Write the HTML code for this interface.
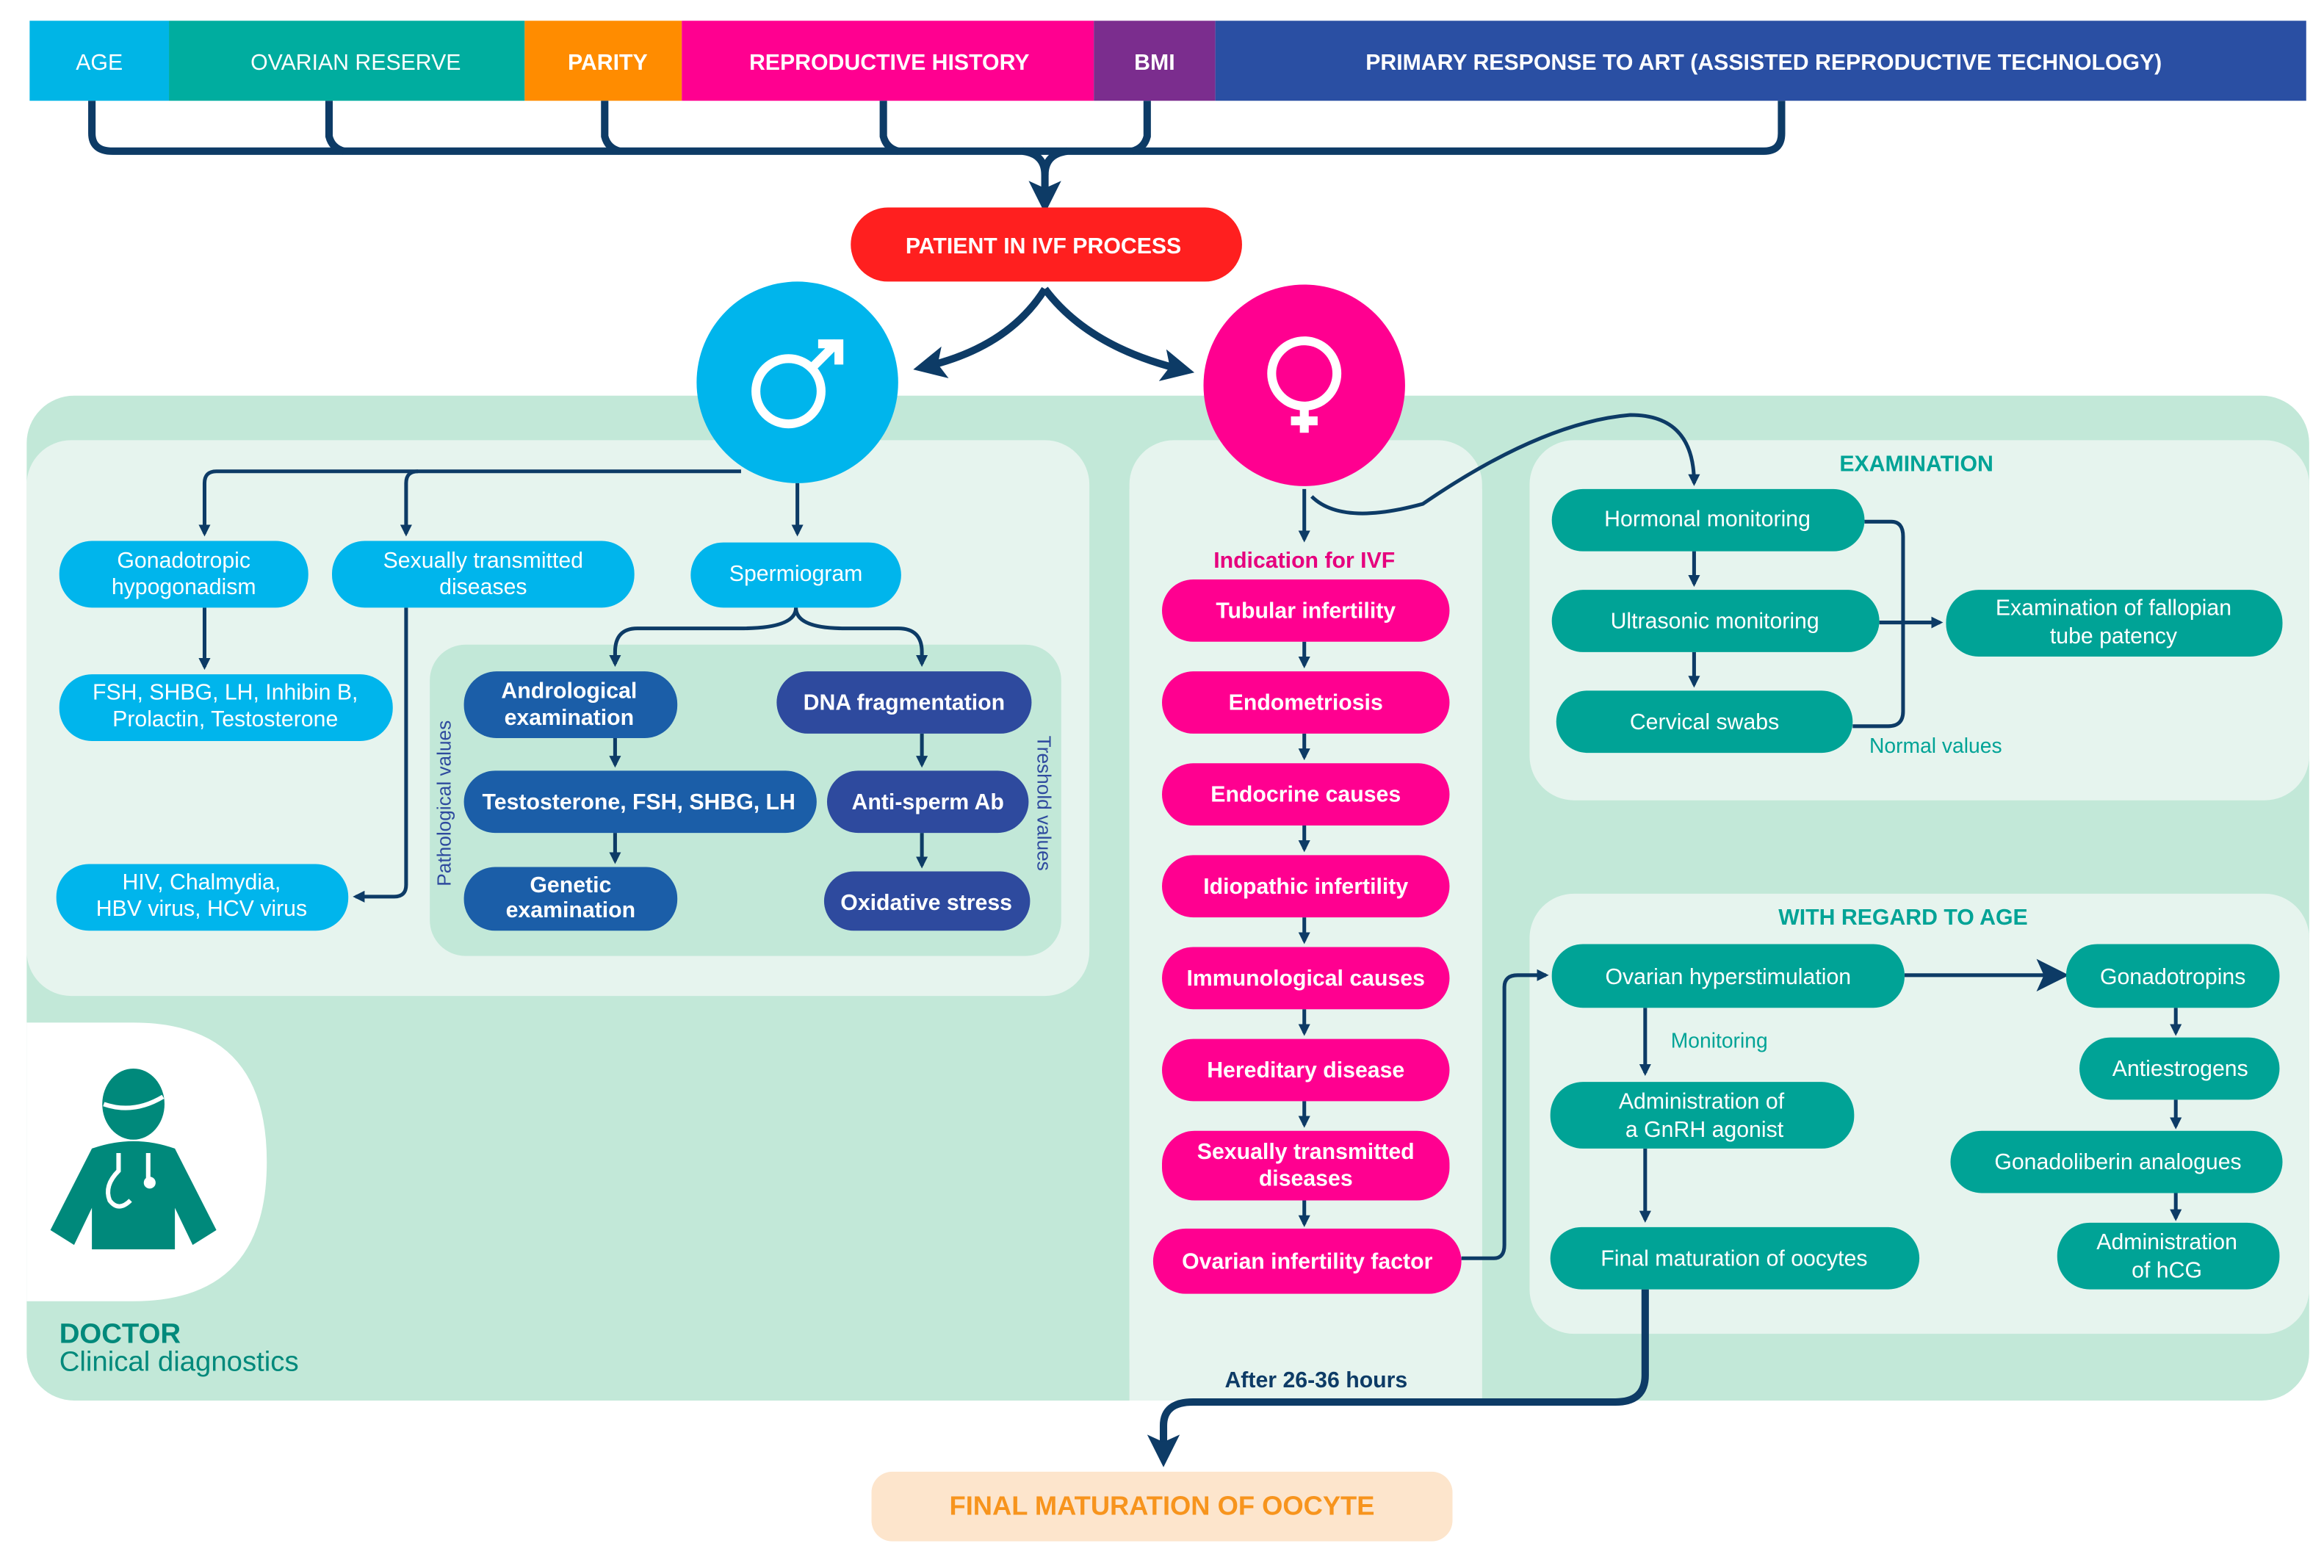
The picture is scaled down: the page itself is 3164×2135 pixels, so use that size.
<!DOCTYPE html>
<html><head><meta charset="utf-8"><style>
html,body{margin:0;padding:0;background:#fff;}
svg{display:block}
text{font-family:"Liberation Sans",sans-serif;}
.w{fill:#fff;font-size:15px;text-anchor:middle}
.hd{fill:#fff;font-size:15px;text-anchor:middle;font-weight:bold}
</style></head><body>
<svg width="3164" height="2135" viewBox="0 0 1568 1058" preserveAspectRatio="none">
<defs>
<marker id="a" markerWidth="8" markerHeight="8" refX="6" refY="4" orient="auto" markerUnits="userSpaceOnUse"><path d="M0,0 L8,4 L0,8 z" fill="#0d3b66"/></marker>
<marker id="A" markerWidth="22" markerHeight="22" refX="16" refY="11" orient="auto" markerUnits="userSpaceOnUse"><path d="M0,0 L22,11 L0,22 L5,11 z" fill="#0d3b66"/></marker>
</defs>
<rect x="20" y="14" width="94" height="54" fill="#00b5e6"/>
<rect x="114" y="14" width="240" height="54" fill="#00ad9f"/>
<rect x="354" y="14" width="106" height="54" fill="#ff8c00"/>
<rect x="460" y="14" width="278" height="54" fill="#ff0090"/>
<rect x="738" y="14" width="82" height="54" fill="#7b2d8e"/>
<rect x="820" y="14" width="736" height="54" fill="#2a4fa3"/>
<text class="w" x="67" y="47">AGE</text>
<text class="w" x="240" y="47">OVARIAN RESERVE</text>
<text class="hd" x="410" y="47">PARITY</text>
<text class="hd" x="600" y="47">REPRODUCTIVE HISTORY</text>
<text class="hd" x="779" y="47">BMI</text>
<text class="hd" x="1190" y="47">PRIMARY RESPONSE TO ART (ASSISTED REPRODUCTIVE TECHNOLOGY)</text>
<g fill="none" stroke="#0d3b66" stroke-width="5">
<path d="M62,68 V90 Q62,102 76,102 H1190 Q1202,102 1202,90 V68"/>
<path d="M222,68 V92 Q224,100 232,102"/>
<path d="M408,68 V92 Q410,100 418,102"/>
<path d="M596,68 V92 Q598,100 606,102"/>
<path d="M774,68 V92 Q772,100 764,102"/>
<path d="M690,102 Q705,104 705,118 V138" marker-end="url(#A)"/>
<path d="M720,102 Q705,104 705,118"/>
<path d="M705,195 Q680,235 622,248" marker-end="url(#A)"/>
<path d="M705,195 Q735,235 800,250" marker-end="url(#A)"/>
</g>
<rect x="574" y="140" width="264" height="50" rx="25" fill="#ff1f1f"/>
<text class="hd" x="704" y="171">PATIENT IN IVF PROCESS</text>
<rect x="18" y="267" width="1540" height="678" rx="32" fill="#c2e8d8"/>
<rect x="18" y="297" width="717" height="375" rx="30" fill="#e6f4ee"/>
<rect x="762" y="297" width="238" height="648" rx="30" fill="#e6f4ee"/>
<rect x="762" y="330" width="238" height="615" fill="#e6f4ee"/>
<rect x="1032" y="297" width="526" height="243" rx="30" fill="#e6f4ee"/>
<rect x="1032" y="603" width="526" height="297" rx="30" fill="#e6f4ee"/>
<rect x="290" y="435" width="426" height="210" rx="24" fill="#c2e8d8"/>
<path d="M18,690 H90 Q180,690 180,784 Q180,878 90,878 H18 z" fill="#fff"/>
<g fill="#00897b">
<ellipse cx="90" cy="745" rx="21" ry="24"/>
<path d="M62,775 Q90,765 118,775 L146,830 L130,840 L118,815 V843 H62 V815 L50,840 L34,830 z"/>
</g>
<path d="M70,745 Q90,752 110,740" stroke="#fff" stroke-width="3" fill="none"/>
<path d="M80,778 V790 Q70,800 74,810 Q80,818 88,810 M100,778 V795" stroke="#fff" stroke-width="3" fill="none"/>
<circle cx="101" cy="798" r="4" fill="#fff"/>
<text x="40" y="906" fill="#00897b" font-size="19" font-weight="bold">DOCTOR</text>
<text x="40" y="925" fill="#00897b" font-size="19">Clinical diagnostics</text>
<circle cx="538" cy="258" r="68" fill="#00b5ec"/>
<circle cx="880" cy="260" r="68" fill="#ff0090"/>
<g stroke="#fff" stroke-width="6" fill="none">
<circle cx="532" cy="264" r="22"/>
<path d="M548,248 L565,231 M552,232 H566 V246"/>
<circle cx="880" cy="252" r="22"/>
<path d="M880,274 V292 M871,284 H889"/>
</g>
<g fill="none" stroke="#0d3b66" stroke-width="2.5">
<path d="M500,318 H146 Q138,318 138,326 V360" marker-end="url(#a)"/>
<path d="M282,318 Q274,318 274,326 V360" marker-end="url(#a)"/>
<path d="M538,326 V360" marker-end="url(#a)"/>
<path d="M138,410 V450" marker-end="url(#a)"/>
<path d="M274,410 V597 Q274,605 266,605 H240" marker-end="url(#a)"/>
<path d="M537,410 Q537,424 500,424 H430 Q415,424 415,440 V448" marker-end="url(#a)"/>
<path d="M537,410 Q537,424 570,424 H606 Q622,424 622,440 V448" marker-end="url(#a)"/>
<path d="M415,498 V516" marker-end="url(#a)"/>
<path d="M415,562 V581" marker-end="url(#a)"/>
<path d="M622,495 V516" marker-end="url(#a)"/>
<path d="M622,562 V584" marker-end="url(#a)"/>
</g>
<g>
<rect x="40" y="365" width="168" height="45" rx="22" fill="#00b5ec"/>
<text class="w" x="124" y="383">Gonadotropic</text><text class="w" x="124" y="401">hypogonadism</text>
<rect x="224" y="365" width="204" height="45" rx="22" fill="#00b5ec"/>
<text class="w" x="326" y="383">Sexually transmitted</text><text class="w" x="326" y="401">diseases</text>
<rect x="466" y="366" width="142" height="44" rx="22" fill="#00b5ec"/>
<text class="w" x="537" y="392">Spermiogram</text>
<rect x="40" y="455" width="225" height="45" rx="22" fill="#00b5ec"/>
<text class="w" x="152" y="472">FSH, SHBG, LH, Inhibin B,</text><text class="w" x="152" y="490">Prolactin, Testosterone</text>
<rect x="38" y="583" width="197" height="45" rx="22" fill="#00b5ec"/>
<text class="w" x="136" y="600">HIV, Chalmydia,</text><text class="w" x="136" y="618">HBV virus, HCV virus</text>
<rect x="313" y="453" width="144" height="45" rx="22" fill="#1b5ea8"/>
<text class="hd" x="384" y="471">Andrological</text><text class="hd" x="384" y="489">examination</text>
<rect x="313" y="520" width="238" height="42" rx="21" fill="#1b5ea8"/>
<text class="hd" x="431" y="546">Testosterone, FSH, SHBG, LH</text>
<rect x="313" y="585" width="144" height="43" rx="21" fill="#1b5ea8"/>
<text class="hd" x="385" y="602">Genetic</text><text class="hd" x="385" y="619">examination</text>
<rect x="524" y="453" width="172" height="42" rx="21" fill="#2e4a9e"/>
<text class="hd" x="610" y="479">DNA fragmentation</text>
<rect x="558" y="520" width="136" height="42" rx="21" fill="#2e4a9e"/>
<text class="hd" x="626" y="546">Anti-sperm Ab</text>
<rect x="556" y="588" width="139" height="40" rx="20" fill="#2e4a9e"/>
<text class="hd" x="625" y="614">Oxidative stress</text>
<text x="0" y="0" transform="translate(304,542) rotate(-90)" font-size="13" fill="#2e4a9e" text-anchor="middle">Pathological values</text>
<text x="0" y="0" transform="translate(700,542) rotate(90)" font-size="13" fill="#2e4a9e" text-anchor="middle">Treshold values</text>
</g>
<g fill="none" stroke="#0d3b66" stroke-width="2.5">
<path d="M880,330 V364" marker-end="url(#a)"/>
<path d="M880,433 V449" marker-end="url(#a)"/><path d="M880,495 V511" marker-end="url(#a)"/>
<path d="M880,557 V573" marker-end="url(#a)"/><path d="M880,619 V635" marker-end="url(#a)"/>
<path d="M880,681 V697" marker-end="url(#a)"/><path d="M880,743 V759" marker-end="url(#a)"/>
<path d="M880,810 V826" marker-end="url(#a)"/>
<path d="M885,335 Q905,355 960,340 Q1040,285 1100,280 Q1143,280 1143,326" marker-end="url(#a)"/>
<path d="M1143,372 V394" marker-end="url(#a)"/>
<path d="M1143,440 V462" marker-end="url(#a)"/>
<path d="M1258,352 H1276 Q1284,352 1284,362 V480 Q1284,490 1274,490 H1250"/>
<path d="M1268,420 H1309" marker-end="url(#a)"/>
<path d="M986,849 H1008 Q1015,849 1015,840 V666 Q1015,658 1024,658 H1043" marker-end="url(#a)"/>
<path d="M1285,658 H1390" marker-end="url(#A)"/>
<path d="M1110,680 V724" marker-end="url(#a)"/>
<path d="M1110,775 V823" marker-end="url(#a)"/>
<path d="M1468,680 V697" marker-end="url(#a)"/>
<path d="M1468,742 V760" marker-end="url(#a)"/>
<path d="M1468,805 V822" marker-end="url(#a)"/>
</g>
<path d="M1110,870 V928 Q1110,946 1090,946 H805 Q785,946 785,962 V984" fill="none" stroke="#0d3b66" stroke-width="5" marker-end="url(#A)"/>
<text x="880" y="383" font-size="15" fill="#e6007e" text-anchor="middle" font-weight="bold">Indication for IVF</text>
<g>
<rect x="784" y="391" width="194" height="42" rx="21" fill="#ff0090"/><text class="hd" x="881" y="417">Tubular infertility</text>
<rect x="784" y="453" width="194" height="42" rx="21" fill="#ff0090"/><text class="hd" x="881" y="479">Endometriosis</text>
<rect x="784" y="515" width="194" height="42" rx="21" fill="#ff0090"/><text class="hd" x="881" y="541">Endocrine causes</text>
<rect x="784" y="577" width="194" height="42" rx="21" fill="#ff0090"/><text class="hd" x="881" y="603">Idiopathic infertility</text>
<rect x="784" y="639" width="194" height="42" rx="21" fill="#ff0090"/><text class="hd" x="881" y="665">Immunological causes</text>
<rect x="784" y="701" width="194" height="42" rx="21" fill="#ff0090"/><text class="hd" x="881" y="727">Hereditary disease</text>
<rect x="784" y="763" width="194" height="47" rx="22" fill="#ff0090"/><text class="hd" x="881" y="782">Sexually transmitted</text><text class="hd" x="881" y="800">diseases</text>
<rect x="778" y="829" width="208" height="44" rx="22" fill="#ff0090"/><text class="hd" x="882" y="856">Ovarian infertility factor</text>
</g>
<text x="1293" y="318" font-size="15" fill="#00a396" text-anchor="middle" font-weight="bold">EXAMINATION</text>
<text x="1306" y="508" font-size="14" fill="#00a396" text-anchor="middle">Normal values</text>
<text x="1284" y="624" font-size="15" fill="#00a396" text-anchor="middle" font-weight="bold">WITH REGARD TO AGE</text>
<text x="1160" y="707" font-size="14" fill="#00a396" text-anchor="middle">Monitoring</text>
<g>
<rect x="1047" y="330" width="211" height="42" rx="21" fill="#00a396"/><text class="w" x="1152" y="355">Hormonal monitoring</text>
<rect x="1047" y="398" width="221" height="42" rx="21" fill="#00a396"/><text class="w" x="1157" y="424">Ultrasonic monitoring</text>
<rect x="1050" y="466" width="200" height="42" rx="21" fill="#00a396"/><text class="w" x="1150" y="492">Cervical swabs</text>
<rect x="1313" y="398" width="227" height="45" rx="22" fill="#00a396"/><text class="w" x="1426" y="415">Examination of fallopian</text><text class="w" x="1426" y="434">tube patency</text>
<rect x="1047" y="637" width="238" height="43" rx="21" fill="#00a396"/><text class="w" x="1166" y="664">Ovarian hyperstimulation</text>
<rect x="1046" y="730" width="205" height="45" rx="22" fill="#00a396"/><text class="w" x="1148" y="748">Administration of</text><text class="w" x="1150" y="767">a GnRH agonist</text>
<rect x="1046" y="828" width="249" height="42" rx="21" fill="#00a396"/><text class="w" x="1170" y="854">Final maturation of oocytes</text>
<rect x="1394" y="637" width="144" height="43" rx="21" fill="#00a396"/><text class="w" x="1466" y="664">Gonadotropins</text>
<rect x="1403" y="700" width="135" height="42" rx="21" fill="#00a396"/><text class="w" x="1471" y="726">Antiestrogens</text>
<rect x="1316" y="763" width="224" height="42" rx="21" fill="#00a396"/><text class="w" x="1429" y="789">Gonadoliberin analogues</text>
<rect x="1388" y="825" width="150" height="45" rx="22" fill="#00a396"/><text class="w" x="1462" y="843">Administration</text><text class="w" x="1462" y="862">of hCG</text>
</g>
<text x="888" y="936" font-size="15" fill="#0d3b66" text-anchor="middle" font-weight="bold">After 26-36 hours</text>
<rect x="588" y="993" width="392" height="47" rx="14" fill="#fde5cc"/>
<text x="784" y="1022" font-size="18" fill="#f7941d" text-anchor="middle" font-weight="bold">FINAL MATURATION OF OOCYTE</text>
</svg>
</body></html>
